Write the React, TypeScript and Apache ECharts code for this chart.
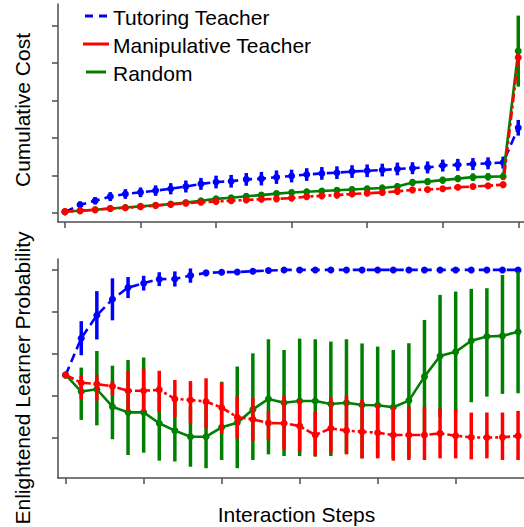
import React, { useEffect, useRef } from "react";
import * as echarts from "echarts";

// ---------- data ----------
const topSteps = Array.from({ length: 31 }, (_, i) => i);
const bottomSteps = Array.from({ length: 30 }, (_, i) => i);
const topTicksX = [0, 5, 10, 15, 20, 25, 30];
const bottomTicksX = [0, 5, 10, 15, 20, 25];
const topTicksY = [0, 1, 2, 3, 4, 5];
const bottomTicksY = [0.2, 0.4, 0.6, 0.8, 1.0];

// Cumulative cost (top panel)
const costTutoring = [0.02, 0.21, 0.32, 0.43, 0.5, 0.545, 0.59, 0.64, 0.7, 0.77, 0.82, 0.84, 0.89, 0.91, 0.95, 0.98, 1.02, 1.05, 1.07, 1.1, 1.12, 1.14, 1.17, 1.19, 1.21, 1.26, 1.28, 1.3, 1.32, 1.34, 2.27];
const costTutoringErr = [0.02, 0.09, 0.1, 0.12, 0.13, 0.13, 0.14, 0.15, 0.16, 0.16, 0.17, 0.17, 0.17, 0.18, 0.18, 0.17, 0.17, 0.17, 0.17, 0.17, 0.17, 0.17, 0.17, 0.16, 0.16, 0.16, 0.16, 0.16, 0.16, 0.16, 0.21];
const costManip = [0.03, 0.05, 0.08, 0.11, 0.13, 0.16, 0.19, 0.22, 0.25, 0.28, 0.3, 0.32, 0.34, 0.36, 0.37, 0.39, 0.43, 0.45, 0.47, 0.5, 0.52, 0.54, 0.57, 0.61, 0.62, 0.64, 0.68, 0.7, 0.72, 0.75, 4.15];
const costManipErr = [0.01, 0.03, 0.03, 0.04, 0.04, 0.04, 0.04, 0.04, 0.04, 0.04, 0.04, 0.04, 0.04, 0.04, 0.04, 0.04, 0.04, 0.04, 0.04, 0.04, 0.04, 0.04, 0.04, 0.04, 0.04, 0.04, 0.04, 0.04, 0.04, 0.04, 0.1];
const costRandom = [0.03, 0.05, 0.08, 0.11, 0.14, 0.17, 0.2, 0.23, 0.27, 0.32, 0.37, 0.4, 0.44, 0.47, 0.51, 0.54, 0.56, 0.58, 0.6, 0.62, 0.64, 0.66, 0.7, 0.81, 0.83, 0.87, 0.91, 0.95, 0.96, 0.97, 4.32];
const costRandomErr = [0.01, 0.03, 0.04, 0.05, 0.05, 0.06, 0.06, 0.06, 0.07, 0.07, 0.07, 0.07, 0.08, 0.08, 0.08, 0.08, 0.08, 0.08, 0.08, 0.08, 0.08, 0.09, 0.09, 0.09, 0.09, 0.09, 0.09, 0.1, 0.1, 0.1, 0.95];

// Enlightened learner probability (bottom panel)
const probTutoring = [0.5, 0.675, 0.784, 0.86, 0.916, 0.937, 0.956, 0.957, 0.973, 0.986, 0.989, 0.99, 0.994, 0.997, 1, 1, 1, 1, 1, 1, 1, 1, 1, 1, 1, 1, 1, 1, 1, 1];
const probTutoringErr = [0, 0.081, 0.115, 0.1, 0.05, 0.035, 0.033, 0.036, 0.034, 0.012, 0.01, 0.008, 0.006, 0.005, 0.004, 0.003, 0.002, 0, 0, 0, 0, 0, 0, 0, 0, 0, 0, 0, 0, 0];
const probManip = [0.5, 0.463, 0.457, 0.446, 0.425, 0.425, 0.429, 0.386, 0.381, 0.373, 0.345, 0.299, 0.289, 0.271, 0.27, 0.257, 0.214, 0.246, 0.235, 0.23, 0.225, 0.214, 0.214, 0.214, 0.222, 0.211, 0.203, 0.202, 0.203, 0.21];
const probManipHi = [0.5, 0.495, 0.5, 0.47, 0.52, 0.53, 0.52, 0.476, 0.471, 0.484, 0.463, 0.397, 0.39, 0.33, 0.402, 0.381, 0.325, 0.392, 0.4, 0.381, 0.36, 0.349, 0.349, 0.349, 0.341, 0.337, 0.321, 0.321, 0.321, 0.329];
const probManipLo = [0.5, 0.384, 0.378, 0.405, 0.33, 0.325, 0.325, 0.3, 0.27, 0.246, 0.222, 0.198, 0.186, 0.19, 0.146, 0.135, 0.114, 0.13, 0.122, 0.103, 0.103, 0.092, 0.095, 0.095, 0.103, 0.103, 0.098, 0.103, 0.095, 0.095];
const probRandom = [0.5, 0.421, 0.432, 0.349, 0.322, 0.322, 0.27, 0.235, 0.206, 0.206, 0.251, 0.273, 0.336, 0.386, 0.368, 0.376, 0.376, 0.362, 0.368, 0.357, 0.356, 0.346, 0.378, 0.492, 0.59, 0.61, 0.663, 0.683, 0.686, 0.706];
const probRandomHi = [0.5, 0.535, 0.614, 0.544, 0.571, 0.583, 0.45, 0.386, 0.349, 0.358, 0.468, 0.54, 0.603, 0.67, 0.619, 0.673, 0.67, 0.659, 0.67, 0.65, 0.635, 0.619, 0.651, 0.762, 0.881, 0.897, 0.91, 0.913, 0.976, 0.992];
const probRandomLo = [0.5, 0.286, 0.26, 0.194, 0.119, 0.13, 0.092, 0.088, 0.063, 0.056, 0.095, 0.056, 0.095, 0.122, 0.114, 0.114, 0.111, 0.114, 0.127, 0.103, 0.108, 0.103, 0.105, 0.222, 0.3, 0.322, 0.37, 0.397, 0.41, 0.413];

const legendNames = ["Tutoring Teacher", "Manipulative Teacher", "Random"];

const BLUE = "#0000ff";
const RED = "#ff0000";
const GREEN = "#008000";
const AXIS = "#4d4d4d";
const FONT = "'Liberation Sans', Arial, sans-serif";
const FS = 21;

function errSeries(
  xs: number[],
  lo: number[],
  hi: number[],
  color: string,
  axisIndex: number,
  z: number
) {
  return {
    type: "custom",
    xAxisIndex: axisIndex,
    yAxisIndex: axisIndex,
    z,
    silent: true,
    data: xs.map((x, i) => [x, lo[i], hi[i]]),
    encode: { x: 0, y: [1, 2] },
    renderItem: (_p: any, api: any) => {
      const a = api.coord([api.value(0), api.value(1)]);
      const b = api.coord([api.value(0), api.value(2)]);
      return {
        type: "line",
        shape: { x1: a[0], y1: a[1], x2: b[0], y2: b[1] },
        style: { stroke: color, lineWidth: 3.5 },
      };
    },
  };
}

function lineSeries(
  name: string,
  xs: number[],
  ys: number[],
  color: string,
  dash: any,
  axisIndex: number,
  z: number
) {
  return {
    type: "line",
    name,
    xAxisIndex: axisIndex,
    yAxisIndex: axisIndex,
    z,
    data: xs.map((x, i) => [x, ys[i]]),
    symbol: "circle",
    symbolSize: 7,
    showSymbol: true,
    itemStyle: { color },
    lineStyle: { color, width: 2.6, type: dash },
    emphasis: { disabled: true },
  };
}

function axisCommon() {
  return {
    axisLine: { show: true, onZero: false, lineStyle: { color: AXIS, width: 1.5 } },
    axisLabel: { show: false },
    splitLine: { show: false },
  };
}

export default function App() {
  const ref = useRef<HTMLDivElement>(null);
  useEffect(() => {
    if (!ref.current) return;
    const chart = echarts.init(ref.current, null, { renderer: "svg" });
    const tickStyle = { color: AXIS, width: 1.5 };
    const option: any = {
      animation: false,
      backgroundColor: "#ffffff",
      grid: [
        { left: 58, top: 4, width: 466, height: 218 },
        { left: 58, top: 259, width: 466, height: 219 },
      ],
      xAxis: [
        {
          type: "value",
          gridIndex: 0,
          min: -0.46,
          max: 30.38,
          ...axisCommon(),
          axisTick: { show: true, length: 6, customValues: topTicksX, lineStyle: tickStyle },
        },
        {
          type: "value",
          gridIndex: 1,
          min: -0.49,
          max: 29.38,
          ...axisCommon(),
          axisTick: { show: true, length: 6, customValues: bottomTicksX, lineStyle: tickStyle },
        },
      ],
      yAxis: [
        {
          type: "value",
          gridIndex: 0,
          min: -0.249,
          max: 5.58,
          ...axisCommon(),
          axisTick: { show: true, length: 6, customValues: topTicksY, lineStyle: tickStyle },
        },
        {
          type: "value",
          gridIndex: 1,
          min: 0.0095,
          max: 1.052,
          ...axisCommon(),
          axisTick: { show: true, length: 6, customValues: bottomTicksY, lineStyle: tickStyle },
        },
      ],
      series: [
        // top panel
        errSeries(topSteps, costTutoring.map((v, i) => v - costTutoringErr[i]), costTutoring.map((v, i) => v + costTutoringErr[i]), BLUE, 0, 2),
        lineSeries(legendNames[0], topSteps, costTutoring, BLUE, [9, 5], 0, 2),
        errSeries(topSteps, costRandom.map((v, i) => v - costRandomErr[i]), costRandom.map((v, i) => v + costRandomErr[i]), GREEN, 0, 3),
        lineSeries(legendNames[2], topSteps, costRandom, GREEN, "solid", 0, 3),
        errSeries(topSteps, costManip.map((v, i) => v - costManipErr[i]), costManip.map((v, i) => v + costManipErr[i]), RED, 0, 4),
        lineSeries(legendNames[1], topSteps, costManip, RED, [9, 3, 3, 3], 0, 4),
        // bottom panel
        errSeries(bottomSteps, probTutoring.map((v, i) => v - probTutoringErr[i]), probTutoring.map((v, i) => v + probTutoringErr[i]), BLUE, 1, 2),
        lineSeries(legendNames[0], bottomSteps, probTutoring, BLUE, [9, 5], 1, 2),
        errSeries(bottomSteps, probRandomLo, probRandomHi, GREEN, 1, 3),
        lineSeries(legendNames[2], bottomSteps, probRandom, GREEN, "solid", 1, 3),
        errSeries(bottomSteps, probManipLo, probManipHi, RED, 1, 4),
        lineSeries(legendNames[1], bottomSteps, probManip, RED, [9, 3, 3, 3], 1, 4),
      ],
      graphic: [
        // legend
        { type: "line", shape: { x1: 85, y1: 16, x2: 107, y2: 16 }, style: { stroke: BLUE, lineWidth: 3, lineDash: [8, 6] }, z: 10 },
        { type: "line", shape: { x1: 83, y1: 44, x2: 109, y2: 44 }, style: { stroke: RED, lineWidth: 3 }, z: 10 },
        { type: "line", shape: { x1: 86, y1: 72, x2: 106, y2: 72 }, style: { stroke: GREEN, lineWidth: 3 }, z: 10 },
        { type: "text", x: 113, y: 17, style: { text: legendNames[0], font: `${FS}px ${FONT}`, fill: "#000", verticalAlign: "middle" }, z: 10 },
        { type: "text", x: 113, y: 45, style: { text: legendNames[1], font: `${FS}px ${FONT}`, fill: "#000", verticalAlign: "middle" }, z: 10 },
        { type: "text", x: 113, y: 73, style: { text: legendNames[2], font: `${FS}px ${FONT}`, fill: "#000", verticalAlign: "middle" }, z: 10 },
        // axis titles
        { type: "text", x: 22, y: 110, rotation: Math.PI / 2, style: { text: "Cumulative Cost", font: `${FS}px ${FONT}`, fill: "#000", align: "center", verticalAlign: "middle" } },
        { type: "text", x: 22, y: 378, rotation: Math.PI / 2, style: { text: "Enlightened Learner Probability", font: `${FS}px ${FONT}`, fill: "#000", align: "center", verticalAlign: "middle" } },
        { type: "text", x: 296.5, y: 514, style: { text: "Interaction Steps", font: `${FS}px ${FONT}`, fill: "#000", align: "center", verticalAlign: "middle" } },
      ],
    };
    chart.setOption(option);
    return () => chart.dispose();
  }, []);
  return <div ref={ref} style={{ width: 524, height: 527, position: "absolute", left: 0, top: 0 }} />;
}
